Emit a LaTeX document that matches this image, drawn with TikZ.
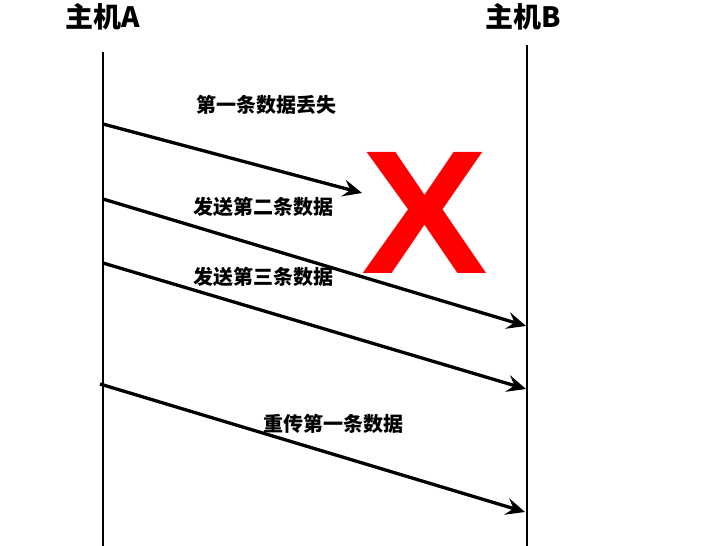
\documentclass[tikz,border=0pt]{standalone}
\usepackage{fontspec}
\newfontfamily\cjk{Noto Sans CJK SC}
\newfontfamily\xfont{Liberation Sans}
\usetikzlibrary{arrows.meta}

\begin{document}
\begin{tikzpicture}[x=1pt,y=-1pt,
    msg/.style={line width=3.3pt,-{Stealth[length=19pt,width=17pt,inset=7pt]}},
    life/.style={line width=2pt},
    host/.style={font=\cjk\bfseries\fontsize{28}{32}\selectfont,inner sep=0pt},
    lbl/.style={font=\cjk\bfseries\fontsize{20}{24}\selectfont,inner sep=0pt}]

		\useasboundingbox (0,0) rectangle (723,546);

		\coordinate(Atop) at (103,52);
		\coordinate(Abot) at (103,546);
		\coordinate(Btop) at (527,45);
		\coordinate(Bbot) at (527,546);

		\coordinate(S1) at (103,124);
		\coordinate(E1) at (362,193);
		\coordinate(S2) at (103,199);
		\coordinate(E2) at (526,326);
		\coordinate(S3) at (103,263);
		\coordinate(E3) at (526,389);
		\coordinate(S4) at (100,384);
		\coordinate(E4) at (525,512);

        \node[host] (hostA) at (103,17) {主机A};
        \node[host] (hostB) at (523,17) {主机B};

        \draw[life] (Atop)--(Abot);
        \draw[life] (Btop)--(Bbot);

        \draw[msg] (S1)--(E1);
        \draw[msg] (S2)--(E2);
        \draw[msg] (S3)--(E3);
        \draw[msg] (S4)--(E4);

        \node[lbl] (lost) at (266,105) {第一条数据丢失};
        \node[lbl] (second) at (263,207) {发送第二条数据};
        \node[lbl] (third) at (263,277) {发送第三条数据};
        \node[lbl] (resend) at (333,424) {重传第一条数据};

        \node[inner sep=0pt,text=red,font=\xfont\bfseries\fontsize{176}{176}\selectfont] (cross) at (425,213) {\scalebox{1.08}[1]{X}};

	\end{tikzpicture}
\end{document}
